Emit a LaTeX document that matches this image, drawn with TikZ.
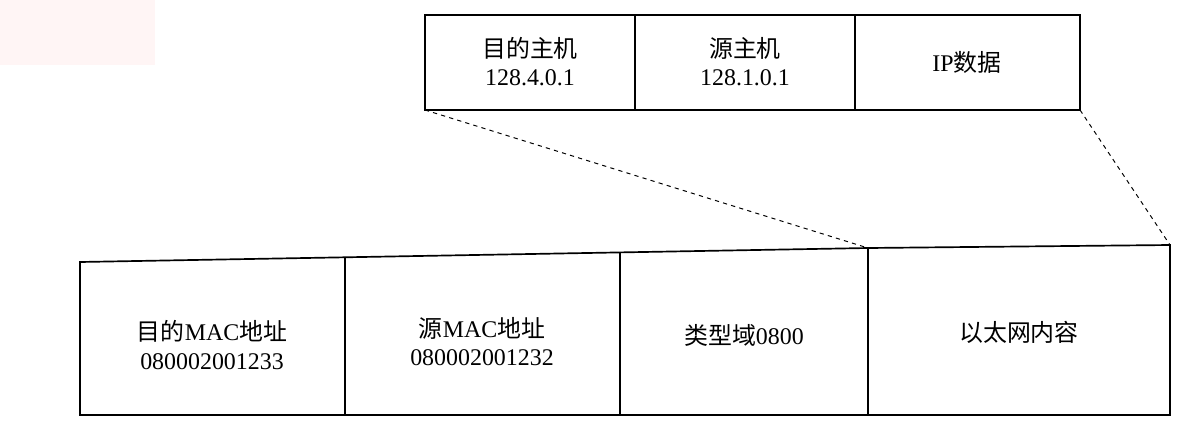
\documentclass[tikz,border=0pt]{standalone}
\usepackage{fontspec}
\setmainfont{Liberation Serif}
\newfontfamily\cjk{Noto Sans CJK SC}
\begin{document}
\begin{tikzpicture}[x=0.025cm,y=-0.025cm,
  lbl/.style={align=center,font=\fontsize{17}{20}\selectfont},
  guide/.style={dashed,line width=0.7pt}]
\useasboundingbox (0,0) rectangle (1200,435);
\fill[red!4] (0,0) rectangle (155,65);
% top row
\draw[line width=1.2pt] (425,15) rectangle (1080,110);
\draw[line width=1.2pt] (635,15) -- (635,110) (855,15) -- (855,110);
\node[lbl] (t1) at (530,62) {{\cjk 目的主机}\\128.4.0.1};
\node[lbl] (t2) at (745,62) {{\cjk 源主机}\\128.1.0.1};
\node[lbl] (t3) at (967,62) {IP{\cjk 数据}};
\coordinate (tl) at (425,110);
\coordinate (tr) at (1080,110);
% bottom row
\draw[line width=1.2pt] (80,262) -- (868,248) -- (1170,245) -- (1170,415) -- (80,415) -- cycle;
\draw[line width=1.2pt] (345,258) -- (345,415) (620,253) -- (620,415) (868,248) -- (868,415);
\coordinate (bl) at (868,248);
\coordinate (br) at (1170,245);
\node[lbl] (b1) at (212,345) {{\cjk 目的}MAC{\cjk 地址}\\080002001233};
\node[lbl] (b2) at (482,342) {{\cjk 源}MAC{\cjk 地址}\\080002001232};
\node[lbl] (b3) at (744,335) {{\cjk 类型域}0800};
\node[lbl] (b4) at (1019,332) {\cjk 以太网内容};
\draw[guide] (tl) -- (bl);
\draw[guide] (tr) -- (br);
\end{tikzpicture}
\end{document}
